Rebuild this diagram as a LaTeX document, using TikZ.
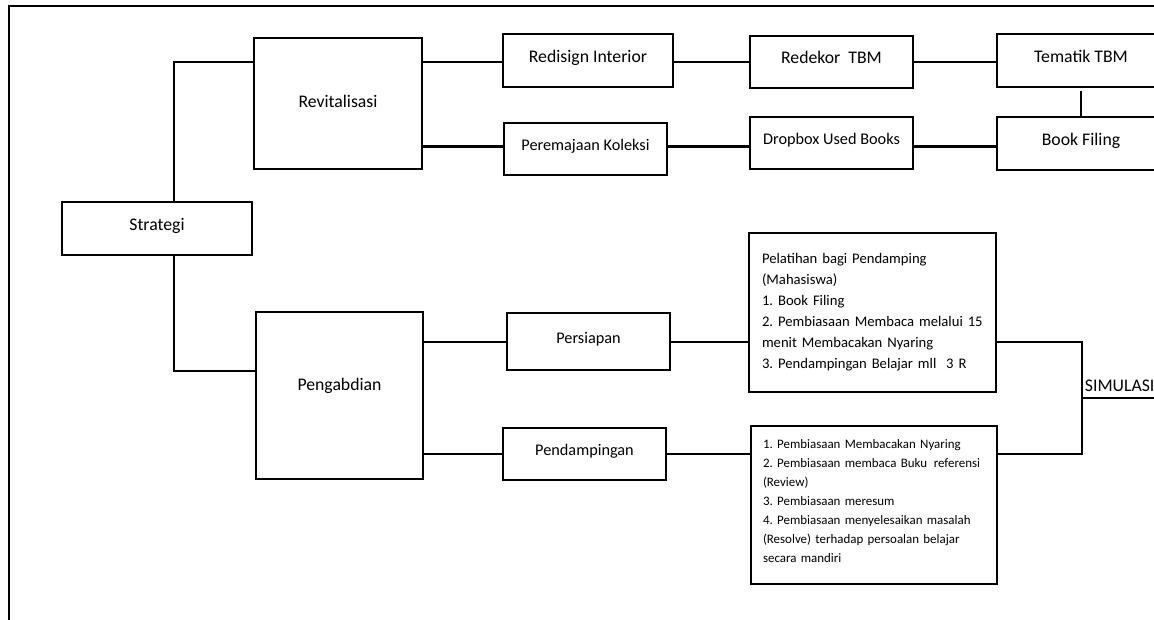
\documentclass[tikz,border=0pt]{standalone}
\usepackage{fontspec}
\setmainfont{Carlito}
\usetikzlibrary{calc}
\frenchspacing
\begin{document}
\begin{tikzpicture}[x=0.75pt,y=-0.75pt,
  every node/.style={inner sep=0pt},
  box/.style={draw,line width=1.5pt,text height=0.75em,text depth=0.5em},
  bigbox/.style={draw,line width=1.5pt},
  listbox/.style={draw,line width=1.5pt,align=left},
  big/.style={font=\fontsize{13.3}{16}\selectfont},
  mid/.style={font=\fontsize{12.2}{15}\selectfont},
  conn/.style={line width=1.5pt},
  thickconn/.style={line width=2.25pt}]
\useasboundingbox (0,0) rectangle (1154,619);
\clip (0,0) rectangle (1154,619);
% frame
\draw[line width=1.5pt] (9,625) -- (9,6) -- (1160,6);
% nodes
\node[box,big,minimum width=142.5pt,minimum height=39.75pt] (strat) at (157,228.5) {Strategi};
\node[bigbox,big,minimum width=126pt,minimum height=98.25pt,text height=0.75em,text depth=0.1em] (rev) at (338,103.5) {Revitalisasi};
\node[bigbox,big,minimum width=125.25pt,minimum height=125.25pt,text height=0.75em,text depth=1.47em] (peng) at (339.5,395.5) {Pengabdian};
\node[box,big,minimum width=127.5pt,minimum height=39.75pt] (redes) at (588,60.5) {Redisign Interior};
\node[box,mid,minimum width=122.25pt,minimum height=39pt] (perem) at (585.5,149) {Peremajaan Koleksi};
\node[box,big,minimum width=122.25pt,minimum height=39pt] (redek) at (831.5,62) {Redekor\ \ TBM};
\node[box,mid,minimum width=122.25pt,minimum height=39pt] (drop) at (831.5,143) {Dropbox Used Books};
\node[box,big,minimum width=126pt,minimum height=39.75pt] (temat) at (1081,60.5) {Tematik TBM};
\node[box,big,minimum width=126pt,minimum height=39.75pt] (bookf) at (1081,143.5) {Book Filing};
\node[box,mid,minimum width=122.25pt,minimum height=42.75pt] (persiap) at (588.5,341.5) {Persiapan};
\node[box,mid,minimum width=122.25pt,minimum height=39pt] (pendamp) at (584.5,454) {Pendampingan};
\node[listbox,minimum width=185.25pt,minimum height=119.25pt,text width=165.75pt,
  font=\fontsize{11}{15.75}\selectfont] (pelat) at (872.5,312.5)
  {\mbox{Pelatihan bagi Pendamping}\\\mbox{(Mahasiswa)}\\\mbox{1. Book Filing}\\\mbox{2. Pembiasaan Membaca melalui 15}\\\mbox{menit Membacakan Nyaring}\\\mbox{3. Pendampingan Belajar mll\ \ 3 R}};
\node[listbox,minimum width=184.5pt,minimum height=118.5pt,text width=166.5pt,
  font=\fontsize{9.7}{14.25}\selectfont] (list) at (874,505)
  {\mbox{1. Pembiasaan Membacakan Nyaring}\\\mbox{2. Pembiasaan membaca Buku\hspace{5pt}referensi}\\\mbox{(Review)}\\\mbox{3. Pembiasaan meresum}\\\mbox{4. Pembiasaan menyelesaikan masalah}\\\mbox{(Resolve) terhadap persoalan belajar}\\\mbox{secara mandiri}\\[-8pt]\mbox{}};
\coordinate (brk) at (1082,398);
\coordinate (simend) at (1160,398);
\node[big,anchor=south west,inner xsep=2pt,inner ysep=4.5pt] (sim) at (brk) {SIMULASI};
% helper points on box edges
\coordinate (s1) at ($(strat.north)+(17,0)$);
\coordinate (s2) at ($(strat.south)+(17,0)$);
\coordinate (rv1) at ($(rev.west)+(0,-41.5)$);
\coordinate (pg1) at ($(peng.west)+(0,-24.5)$);
\coordinate (re1) at ($(rev.east)+(0,-41.5)$);
\coordinate (re2) at ($(rev.east)+(0,42.5)$);
\coordinate (dr1) at ($(drop.west)+(0,3)$);
\coordinate (dr2) at ($(drop.east)+(0,3)$);
\coordinate (tm1) at ($(temat.south)+(0,3)$);
% connectors
\draw[conn] (s1) |- (rv1);
\draw[conn] (s2) |- (pg1);
\draw[conn] (re1) -- (re1 -| redes.west);
\draw[thickconn] (re2) -- (re2 -| perem.west);
\draw[conn] (redek.west -| redes.east) -- (redek.west);
\draw[thickconn] (dr1 -| perem.east) -- (dr1);
\draw[conn] (redek.east) -- (redek.east -| temat.west);
\draw[thickconn] (dr2) -- (dr2 -| bookf.west);
\draw[conn] (tm1) -- (bookf.north);
\draw[conn] (peng.east |- persiap.west) -- (persiap.west);
\draw[conn] (peng.east |- pendamp.west) -- (pendamp.west);
\draw[conn] (persiap.east) -- (persiap.east -| pelat.west);
\draw[conn] (pendamp.east) -- (pendamp.east -| list.west);
\draw[conn] (pelat.east |- persiap.east) -| (brk |- pendamp.east) -- (list.east |- pendamp.east);
\draw[conn] (brk) -- (simend);
\end{tikzpicture}
\end{document}
